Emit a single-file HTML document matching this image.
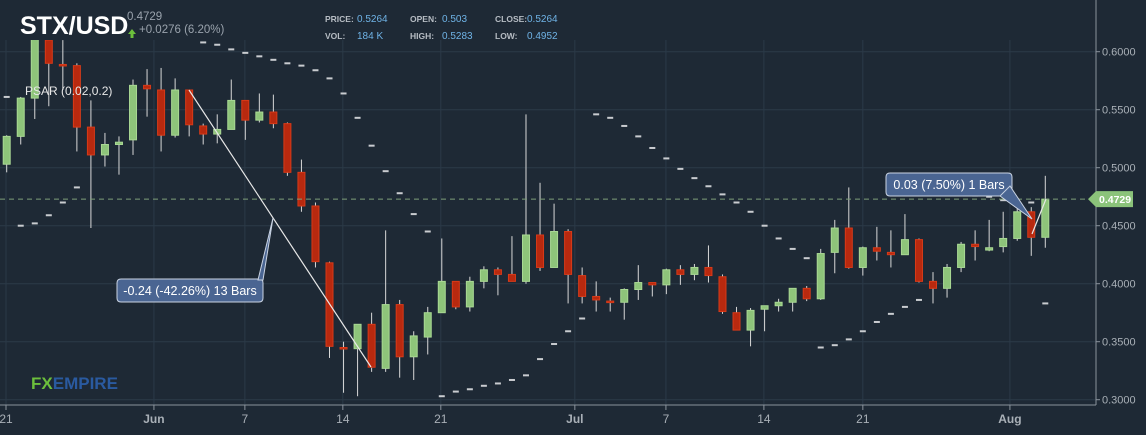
<!DOCTYPE html>
<html><head><meta charset="utf-8"><style>
body{margin:0;background:#1e2935;width:1146px;height:435px;overflow:hidden;font-family:"Liberation Sans",sans-serif}
svg{display:block}
</style></head><body>
<svg id="chart" width="1146" height="435" xmlns="http://www.w3.org/2000/svg">
<rect width="1146" height="435" fill="#1e2935"/>
<g id="grid"></g>
<g id="psar"></g>
<g id="candles"></g>
<rect x="0" y="0" width="1096" height="40" fill="#1e2935"/>
<g id="axes"></g>
<g id="overlay"></g>
<text x="20" y="34" fill="#fff" font-size="25" font-weight="bold">STX/USD</text>
<text x="127" y="20" fill="#9aa3ad" font-size="11.5">0.4729</text>
<path d="M128,34 l4,-5 l4,5 h-2.5 v4 h-3 v-4z" fill="#6cbf3c"/>
<text x="139" y="33" fill="#9aa3ad" font-size="11.5">+0.0276 (6.20%)</text>
<g font-size="8.5" font-weight="bold" fill="#b6bcc3">
<text x="325" y="22">PRICE:</text><text x="357" y="22" fill="#6fb3e6" font-size="10" font-weight="normal">0.5264</text>
<text x="325" y="39">VOL:</text><text x="357" y="39" fill="#6fb3e6" font-size="10" font-weight="normal">184 K</text>
<text x="410" y="22">OPEN:</text><text x="442" y="22" fill="#6fb3e6" font-size="10" font-weight="normal">0.503</text>
<text x="410" y="39">HIGH:</text><text x="442" y="39" fill="#6fb3e6" font-size="10" font-weight="normal">0.5283</text>
<text x="495" y="22">CLOSE:</text><text x="527" y="22" fill="#6fb3e6" font-size="10" font-weight="normal">0.5264</text>
<text x="495" y="39">LOW:</text><text x="527" y="39" fill="#6fb3e6" font-size="10" font-weight="normal">0.4952</text>
</g>
<text x="25" y="95" fill="#e8e8e8" font-size="12">PSAR (0.02,0.2)</text>
<text x="31" y="389" font-size="17" font-weight="bold"><tspan fill="#6cbf3c">FX</tspan><tspan fill="#2a5aa0">EMPIRE</tspan></text>
</svg>
<script>
const opens=[.503,.527,.560,.610,.589,.588,.535,.511,.520,.524,.571,.567,.528,.567,.536,.529,.533,.558,.541,.548,.538,.496,.467,.418,.345,.344,.365,.327,.382,.337,.354,.375,.402,.380,.402,.412,.408,.402,.442,.414,.445,.407,.389,.385,.384,.395,.401,.399,.412,.408,.414,.406,.375,.360,.378,.381,.384,.396,.387,.427,.448,.414,.431,.427,.425,.438,.402,.396,.414,.434,.429,.432,.439,.462,.440];
const highs=[.528,.561,.619,.612,.610,.590,.558,.530,.527,.576,.585,.586,.577,.567,.538,.546,.576,.558,.564,.563,.539,.507,.470,.419,.350,.365,.375,.446,.386,.359,.380,.439,.402,.406,.415,.414,.441,.546,.487,.469,.447,.414,.402,.388,.396,.416,.401,.413,.416,.417,.433,.408,.380,.379,.381,.387,.396,.398,.430,.455,.483,.432,.449,.446,.460,.439,.410,.417,.436,.446,.455,.462,.466,.466,.493];
const lows=[.496,.520,.542,.553,.567,.514,.448,.501,.494,.511,.544,.514,.526,.527,.520,.521,.533,.524,.539,.534,.493,.462,.414,.336,.306,.303,.324,.324,.319,.317,.339,.375,.378,.376,.396,.390,.402,.400,.411,.414,.383,.383,.376,.376,.369,.386,.389,.391,.399,.403,.401,.374,.360,.346,.359,.376,.376,.385,.386,.409,.413,.407,.420,.414,.425,.401,.383,.388,.410,.420,.428,.427,.437,.424,.431];
const closes=[.527,.560,.614,.590,.588,.535,.511,.520,.522,.571,.568,.528,.567,.537,.529,.533,.558,.541,.548,.538,.496,.467,.419,.346,.344,.365,.328,.382,.337,.355,.375,.402,.380,.402,.412,.408,.402,.442,.414,.445,.408,.389,.386,.384,.395,.401,.399,.412,.408,.414,.407,.376,.360,.377,.381,.384,.396,.387,.426,.448,.414,.431,.428,.425,.438,.402,.396,.414,.434,.432,.431,.439,.462,.440,.4729];
const psar=[.561,.450,.452,.459,.470,.483,.637,null,null,null,null,null,null,null,.608,.606,.602,.599,.596,.593,.590,.588,.584,.577,.564,.543,.519,.497,.478,.460,.445,.303,.307,.309,.312,.314,.317,.321,.335,.348,.359,.370,.546,.543,.536,.527,.517,.508,.499,.491,.484,.477,.470,.462,.450,.439,.430,.422,.345,.347,.352,.359,.367,.374,.380,.386,.483,.480,.478,.476,.475,.472,.470,.470,.383];
const yTicks=[0.30,0.35,0.40,0.45,0.50,0.55,0.60];
const xTickLabels=["21","Jun","7","14","21","Jul","7","14","21","Aug"];
const xTickIdx=[-0.05,10.49,16.97,23.95,30.93,40.48,46.97,53.95,61.0,71.48];
const lastPrice=0.4729;

const NS="http://www.w3.org/2000/svg";
const yS=v=>51.7+(0.6-v)*1160;
const xS=i=>6.7+i*14.035;
function mk(tag,attrs,parent){const e=document.createElementNS(NS,tag);for(const k in attrs)e.setAttribute(k,attrs[k]);parent.appendChild(e);return e;}
const grid=document.getElementById('grid'),axes=document.getElementById('axes'),cg=document.getElementById('candles'),pg=document.getElementById('psar'),ov=document.getElementById('overlay');
yTicks.forEach(v=>{
 const l=mk('line',{x1:0,x2:1096,y1:yS(v),y2:yS(v),stroke:'#2b3a48','stroke-width':1},grid);
 
 
 const t=mk('line',{x1:1096,x2:1100,y1:yS(v),y2:yS(v),stroke:'#8a939c'},axes);
 
 
 const tx=mk('text',{x:1102,y:yS(v)+4,fill:'#a9b0b7','font-size':11},axes);tx.textContent=v.toFixed(4);
 
 
});
xTickIdx.forEach((ix,k)=>{
 const x=xS(ix);
 const l=mk('line',{x1:x,x2:x,y1:0,y2:405,stroke:'#2b3a48'},grid);
 
 
 const t=mk('line',{x1:x,x2:x,y1:405,y2:410,stroke:'#8a939c'},axes);
 
 
 const tx=mk('text',{x:x,y:423,fill:'#a9b0b7','font-size':12,'text-anchor':'middle','font-weight':xTickLabels[k].length>2?'bold':'normal'},axes);tx.textContent=xTickLabels[k];
 
 
});
const ax1=mk('line',{x1:0,x2:1096,y1:405,y2:405,stroke:'#8a939c'},axes);


const ax2=mk('line',{x1:1096,x2:1096,y1:0,y2:405,stroke:'#8a939c'},axes);


psar.forEach((v,i)=>{ if(v===null)return;
 const d=mk('rect',{x:xS(i)-3,y:yS(v)-1,width:6,height:2,fill:'#c9ccd0'},pg);
 
 
});
opens.forEach((o,i)=>{
 const c=closes[i],up=c>=o,x=xS(i);
 const w=mk('line',{x1:x,x2:x,y1:yS(highs[i]),y2:yS(lows[i]),stroke:'#d8d8d8','stroke-width':1},cg);
 
 
 const top=yS(Math.max(o,c)),bot=yS(Math.min(o,c));
 const b=mk('rect',{x:x-3.5,y:top,width:7,height:Math.max(1.5,bot-top),fill:up?'#8ec47a':'#b8290f',stroke:up?'#a9d894':'#d83a18','stroke-width':1},cg);
 
 
});
// last price line and tag
const yl=yS(lastPrice);
const lp=mk('line',{x1:0,x2:1088,y1:yl,y2:yl,stroke:'#7f9f7a','stroke-dasharray':'5,4'},ov);


const tag=mk('path',{d:`M1088,${yl} l8,-8 h37 v16 h-37z`,fill:'#8bc37a'},ov);


const tt=mk('text',{x:1099,y:yl+4,fill:'#fff','font-size':10.5,'font-weight':'bold'},ov);tt.textContent=lastPrice.toFixed(4);


// measure tools
function measure(x1,y1,x2,y2,bx,by,bw,px,py,label,name){
 const g=mk('g',{},ov);
 
 
 mk('line',{x1:x1,y1:y1,x2:x2,y2:y2,stroke:'#e8e8e8','stroke-width':1.2},g);
 mk('path',{d:`M${bx+4},${by} h${bw-8} q4,0 4,4 v15 q0,4 -4,4 h-${bw-8} q-4,0 -4,-4 v-15 q0,-4 4,-4z`,fill:'#4a6592',stroke:'#c9d3e3','stroke-width':1},g);
 const t=mk('text',{x:bx+bw/2,y:by+16,fill:'#fff','font-size':12.5,'text-anchor':'middle'},g);t.textContent=label;
 return g;
}
measure(189,90,371,367,117,279,146,0,0,'-0.24 (-42.26%) 13 Bars','measure-drop');
const p1=mk('path',{d:'M258,280 L273,218 L263,280z',fill:'#4a6592',stroke:'#c9d3e3'},ov);


measure(1032,234,1046,199,886,173,126,0,0,'0.03 (7.50%) 1 Bars','measure-rise');
const p2=mk('path',{d:'M1000,196 L1032,219 L1010,186z',fill:'#4a6592',stroke:'#c9d3e3'},ov);


</script>
</body></html>
